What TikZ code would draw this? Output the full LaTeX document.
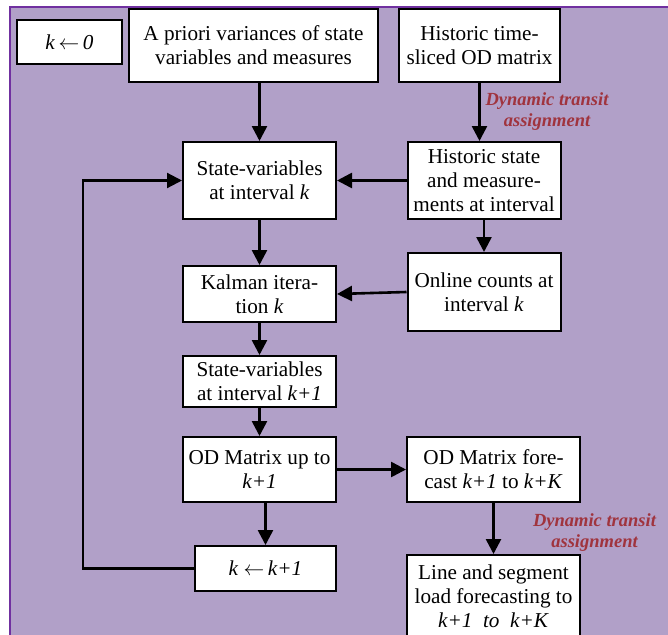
\documentclass[tikz,border=0pt]{standalone}
\usepackage{fontspec}
\setmainfont{Liberation Serif}
\usetikzlibrary{arrows.meta}
\definecolor{bgpurple}{RGB}{177,160,200}
\definecolor{framepurple}{RGB}{112,48,160}
\definecolor{labelred}{RGB}{160,52,62}
\begin{document}
\begin{tikzpicture}[x=1pt,y=-1pt,
  box/.style={draw=black, line width=2pt, fill=white, align=center, inner sep=0pt,
    font=\fontsize{21.2}{24}\selectfont},
  arr/.style={-{Triangle[length=15pt,width=15pt]}, line width=2.6pt},
  lbl/.style={text=labelred, font=\fontsize{18.5}{21}\selectfont\bfseries\itshape, align=center}]
\useasboundingbox (0,0) rectangle (668,634);
\clip (0,0) rectangle (668,634);
\fill[white] (0,0) rectangle (668,634);
\fill[bgpurple] (10,7) rectangle (690,660);
\draw[framepurple, line width=2.2pt] (10,660) -- (10,7) -- (690,7);

\node[box, minimum width=105pt, minimum height=44pt] (k0) at (69.5,42) {\textit{k}\,$\leftarrow$\,\textit{0}};
\node[box, minimum width=249pt, minimum height=73pt] (apriori) at (253.5,45.5) {A priori variances of state\\variables and measures};
\node[box, minimum width=161pt, minimum height=73pt] (hist) at (479.5,45.5) {Historic time-\\sliced OD matrix};
\node[box, minimum width=153pt, minimum height=77pt] (sv) at (259.5,180.5) {State-variables\\at interval \textit{k}};
\node[box, minimum width=153pt, minimum height=77pt] (hs) at (484,180.5) {Historic state\\and measure-\\ments at interval};
\node[box, minimum width=153pt, minimum height=56pt] (kal) at (259.5,294) {Kalman itera-\\tion \textit{k}};
\node[box, minimum width=153pt, minimum height=78pt] (oc) at (484,292) {Online counts at\\interval \textit{k}};
\node[box, minimum width=153pt, minimum height=51pt] (sv1) at (259.5,381.5) {State-variables\\at interval \textit{k+1}};
\node[box, minimum width=153pt, minimum height=65pt] (od) at (259.5,469.5) {OD Matrix up to\\\textit{k+1}};
\node[box, minimum width=173pt, minimum height=65pt] (odf) at (493.5,469.5) {OD Matrix fore-\\cast \textit{k+1} to \textit{k+K}};
\node[box, minimum width=141pt, minimum height=45pt] (kk1) at (265.5,568.5) {\textit{k} $\leftarrow$\,\textit{k+1}};
\node[box, minimum width=173pt, minimum height=82pt] (ls) at (493.5,596) {Line and segment\\load forecasting to\\\textit{k+1}~~\textit{to}~~\textit{k+K}};

\draw[arr] (sv.north |- apriori.south) -- (sv.north);
\draw[arr] (hist.south) -- (hist.south |- hs.north);
\draw[arr] (hs.west) -- (sv.east);
\draw[arr] (hs.south) -- (oc.north);
\draw[arr] (oc.west) -- (kal.east);
\draw[arr] (sv.south) -- (kal.north);
\draw[arr] (kal.south) -- (sv1.north);
\draw[arr] (sv1.south) -- (od.north);
\draw[arr] (od.south -| kk1.north) -- (kk1.north);
\draw[arr] (od.east) -- (odf.west);
\draw[arr] (odf.south) -- (ls.north);
\draw[arr, line width=2.2pt] (kk1.west) -- ++(-111,0) |- (sv.west);

\node[lbl] (l1) at (547,112) {Dynamic transit\\assignment};
\node[lbl] (l2) at (594.5,533) {Dynamic transit\\assignment};
\end{tikzpicture}
\end{document}
